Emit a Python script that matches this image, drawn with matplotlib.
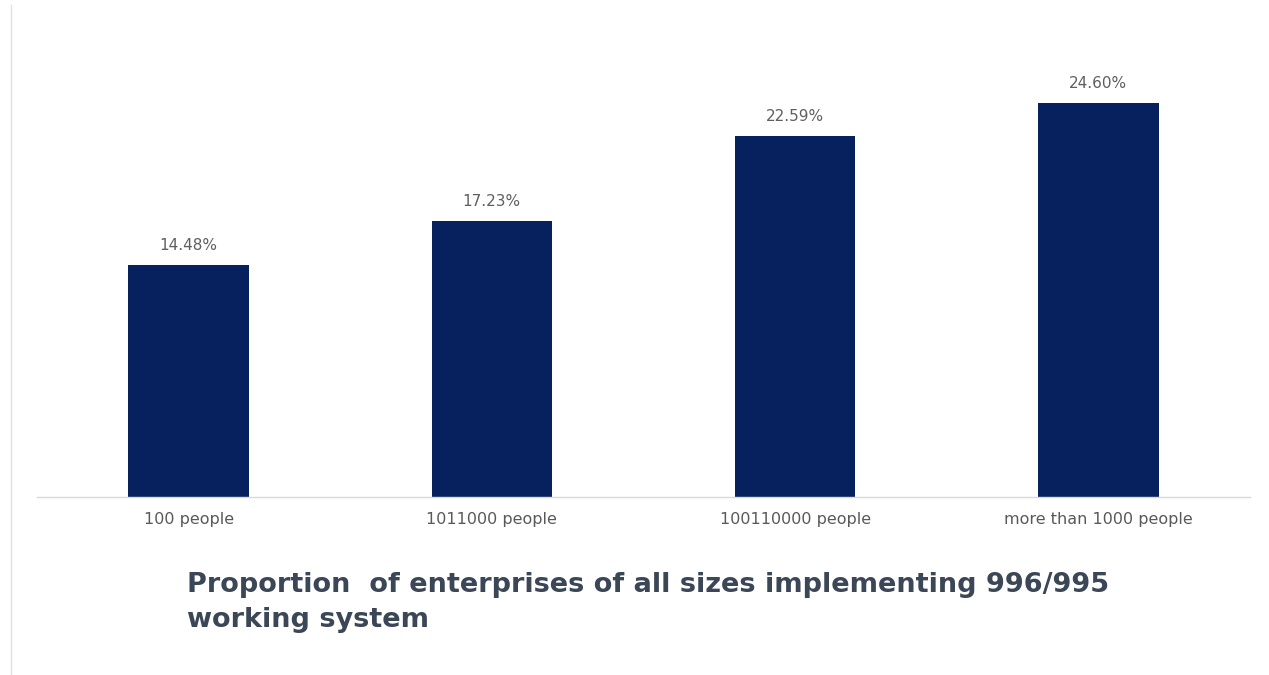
import matplotlib
matplotlib.use('Agg')
from matplotlib import pyplot as plt
from matplotlib.lines import Line2D

categories = ['100 people', '1011000 people', '100110000 people', 'more than 1000 people']
values = [14.48, 17.23, 22.59, 24.60]
value_labels = ['14.48%', '17.23%', '22.59%', '24.60%']
title = 'Proportion  of enterprises of all sizes implementing 996/995\nworking system'

W, H = 1269, 675
fig = plt.figure(figsize=(W / 100, H / 100), dpi=100)
ax = fig.add_axes([37 / W, 1 - 497 / H, (1250 - 37) / W, (497 - 49) / H])

ax.bar(range(len(categories)), values, width=0.397, color='#06215e')
ax.set_xlim(-0.5, len(categories) - 0.5)
ax.set_ylim(0, 28)

for i, (v, lab) in enumerate(zip(values, value_labels)):
    ax.text(i, v + 0.75, lab, ha='center', va='bottom', fontsize=11,
            color='#5f5f5f', family='DejaVu Sans')

ax.set_xticks(range(len(categories)))
ax.set_xticklabels(categories, fontsize=11.5, color='#595959', family='DejaVu Sans')
ax.tick_params(axis='x', length=0, pad=11)
ax.set_yticks([])
for s in ['top', 'right', 'left']:
    ax.spines[s].set_visible(False)
ax.spines['bottom'].set_color('#d9d9d9')
ax.spines['bottom'].set_linewidth(1)

# thin frame line on the left edge
fig.add_artist(Line2D([11 / W, 11 / W], [0, 1 - 5 / H], color='#e0e0e0', lw=1))

fig.text(187 / W, 1 - 572 / H, title, ha='left', va='top', fontsize=19.5,
         fontweight='bold', color='#3b4656', family='DejaVu Sans', linespacing=1.45)

fig.savefig('out.png', dpi=100)
